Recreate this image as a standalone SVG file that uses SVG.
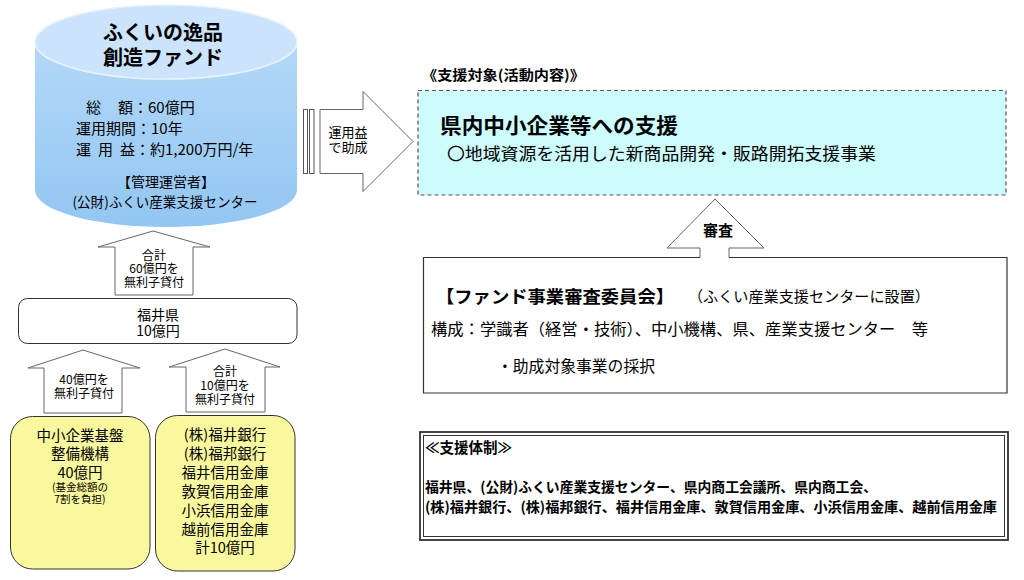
<svg xmlns="http://www.w3.org/2000/svg" width="1024" height="580" viewBox="0 0 1024 580">
<style>
text{font-family:"Noto Sans CJK JP","Noto Sans",sans-serif;fill:#000}
.b{font-weight:bold}
.m{text-anchor:middle}
.arrow{fill:#fff;stroke:#666;stroke-width:1}
.yb{fill:#faf89c;stroke:#333;stroke-width:1}
</style>
<defs>
<linearGradient id="cylBody" x1="0" y1="0" x2="0" y2="1">
<stop offset="0" stop-color="#b3d8f8"/>
<stop offset="1" stop-color="#92c6f2"/>
</linearGradient>
</defs>
<rect width="1024" height="580" fill="#fff"/>

<g id="fund">
<path d="M35,42 L35,190 A131,37 0 0 0 297,190 L297,42 Z" fill="url(#cylBody)"/>
<ellipse cx="166" cy="42" rx="131" ry="37" fill="#cbe4fb" stroke="#e8f3fd" stroke-width="1.5"/>
<text class="b m" x="163" y="39.5" font-size="20">ふくいの逸品</text>
<text class="b m" x="163" y="64.5" font-size="20">創造ファンド</text>
<text x="86" y="112.7" font-size="15">総</text>
<text x="118" y="112.7" font-size="15">額：60億円</text>
<text x="76" y="133.7" font-size="15">運用期間：10年</text>
<text x="76" y="154.7" font-size="15">運</text>
<text x="98" y="154.7" font-size="15">用</text>
<text x="120" y="154.7" font-size="15">益：約1,200万円/年</text>
<text class="m" x="166" y="187.3" font-size="14">【管理運営者】</text>
<text class="m" x="165" y="207.3" font-size="14" textLength="185" lengthAdjust="spacingAndGlyphs">(公財)ふくい産業支援センター</text>
</g>

<g id="connectors">
<g id="arrow-grant">
<rect x="303.5" y="109.5" width="4" height="64" fill="#fff" stroke="#555"/>
<rect x="309.5" y="109.5" width="4.5" height="64" fill="#fff" stroke="#555"/>
<polygon class="arrow" points="320,109.5 363,109.5 363,91.5 413,141.5 363,191.5 363,173.5 320,173.5"/>
<text class="m" x="348" y="136.5" font-size="13">運用益</text>
<text class="m" x="348" y="152" font-size="13">で助成</text>
</g>
<g id="arrow-review">
<polygon points="715,199 764,248 729,248 729,258 700,258 700,248 667,248" fill="#fff"/>
<path d="M700,257.5 L700,248 L667,248 L715,199 L764,248 L729,248 L729,257.5" fill="none" stroke="#666"/>
<text class="b m" x="718" y="235.7" font-size="15">審査</text>
</g>
<g id="arrow-60">
<polygon class="arrow" points="153,231 210,247 193,247 193,295 115,295 115,247 98,247"/>
<text class="m" x="154" y="259.5" font-size="12">合計</text>
<text class="m" x="154" y="273" font-size="12">60億円を</text>
<text class="m" x="154" y="287" font-size="12">無利子貸付</text>
</g>
<g id="arrow-40">
<polygon class="arrow" points="83,350 140,368 122,368 122,413 44,413 44,368 28,368"/>
<text class="m" x="84" y="384" font-size="12">40億円を</text>
<text class="m" x="84" y="398" font-size="12">無利子貸付</text>
</g>
<g id="arrow-10">
<polygon class="arrow" points="225,349 280,367 265,367 265,412 186,412 186,367 169,367"/>
<text class="m" x="225" y="375.5" font-size="12">合計</text>
<text class="m" x="225" y="389.5" font-size="12">10億円を</text>
<text class="m" x="225" y="403.5" font-size="12">無利子貸付</text>
</g>
</g>

<g id="target">
<text class="b" x="422" y="80.3" font-size="14" textLength="163" lengthAdjust="spacingAndGlyphs">《支援対象(活動内容)》</text>
<rect x="418" y="90.5" width="588" height="104.5" fill="#ccfcfc" stroke="#555" stroke-width="1.2" stroke-dasharray="4 3"/>
<text class="b" x="440" y="133" font-size="21" textLength="238" lengthAdjust="spacingAndGlyphs">県内中小企業等への支援</text>
<text x="447" y="159.5" font-size="17" textLength="429" lengthAdjust="spacingAndGlyphs">〇地域資源を活用した新商品開発・販路開拓支援事業</text>
</g>

<g id="committee">
<path d="M700,257.5 L423.5,257.5 L423.5,393 L1007,393 L1007,257.5 L729,257.5" fill="none" stroke="#333" stroke-width="1.2"/>
<text class="b" x="436" y="302.6" font-size="17.5" textLength="238" lengthAdjust="spacingAndGlyphs">【ファンド事業審査委員会】</text>
<text x="688" y="301.7" font-size="15" textLength="242" lengthAdjust="spacingAndGlyphs">（ふくい産業支援センターに設置）</text>
<text x="431" y="335" font-size="16" textLength="497" lengthAdjust="spacingAndGlyphs">構成：学識者（経営・技術）、中小機構、県、産業支援センター　等</text>
<text x="497" y="372" font-size="16" textLength="158" lengthAdjust="spacingAndGlyphs">・助成対象事業の採択</text>
</g>

<g id="support">
<rect x="420" y="432" width="588" height="108" fill="#fff" stroke="#333" stroke-width="1.8"/>
<rect x="423.5" y="435.5" width="581" height="101" fill="none" stroke="#333" stroke-width="1"/>
<text class="b" x="425" y="452.5" font-size="14.5">≪支援体制≫</text>
<text class="b" x="425" y="492.3" font-size="14" textLength="452" lengthAdjust="spacingAndGlyphs">福井県、(公財)ふくい産業支援センター、県内商工会議所、県内商工会、</text>
<text class="b" x="425" y="512.3" font-size="14" textLength="572" lengthAdjust="spacingAndGlyphs">(株)福井銀行、(株)福邦銀行、福井信用金庫、敦賀信用金庫、小浜信用金庫、越前信用金庫</text>
</g>

<g id="fukui">
<rect x="18.5" y="298.5" width="278.5" height="45" rx="9" fill="#fff" stroke="#333" stroke-width="1"/>
<text class="m" x="158" y="320" font-size="14">福井県</text>
<text class="m" x="158" y="336" font-size="14">10億円</text>
</g>

<g id="smrj">
<rect class="yb" x="10.5" y="416.5" width="139.5" height="152.5" rx="22"/>
<text class="m" x="80" y="440.5" font-size="14.5">中小企業基盤</text>
<text class="m" x="80" y="458.5" font-size="14.5">整備機構</text>
<text class="m" x="80" y="477.5" font-size="14.5">40億円</text>
<text class="m" x="80" y="491" font-size="10.5">(基金総額の</text>
<text class="m" x="80" y="503" font-size="10.5">7割を負担)</text>
</g>

<g id="banks">
<rect class="yb" x="155.5" y="415.5" width="139.5" height="155.5" rx="22"/>
<text class="m" x="225" y="439.5" font-size="14.5">(株)福井銀行</text>
<text class="m" x="225" y="458.5" font-size="14.5">(株)福邦銀行</text>
<text class="m" x="225" y="477.5" font-size="14.5">福井信用金庫</text>
<text class="m" x="225" y="497" font-size="14.5">敦賀信用金庫</text>
<text class="m" x="225" y="515.5" font-size="14.5">小浜信用金庫</text>
<text class="m" x="225" y="534.5" font-size="14.5">越前信用金庫</text>
<text class="m" x="225" y="553" font-size="14.5">計10億円</text>
</g>
</svg>
